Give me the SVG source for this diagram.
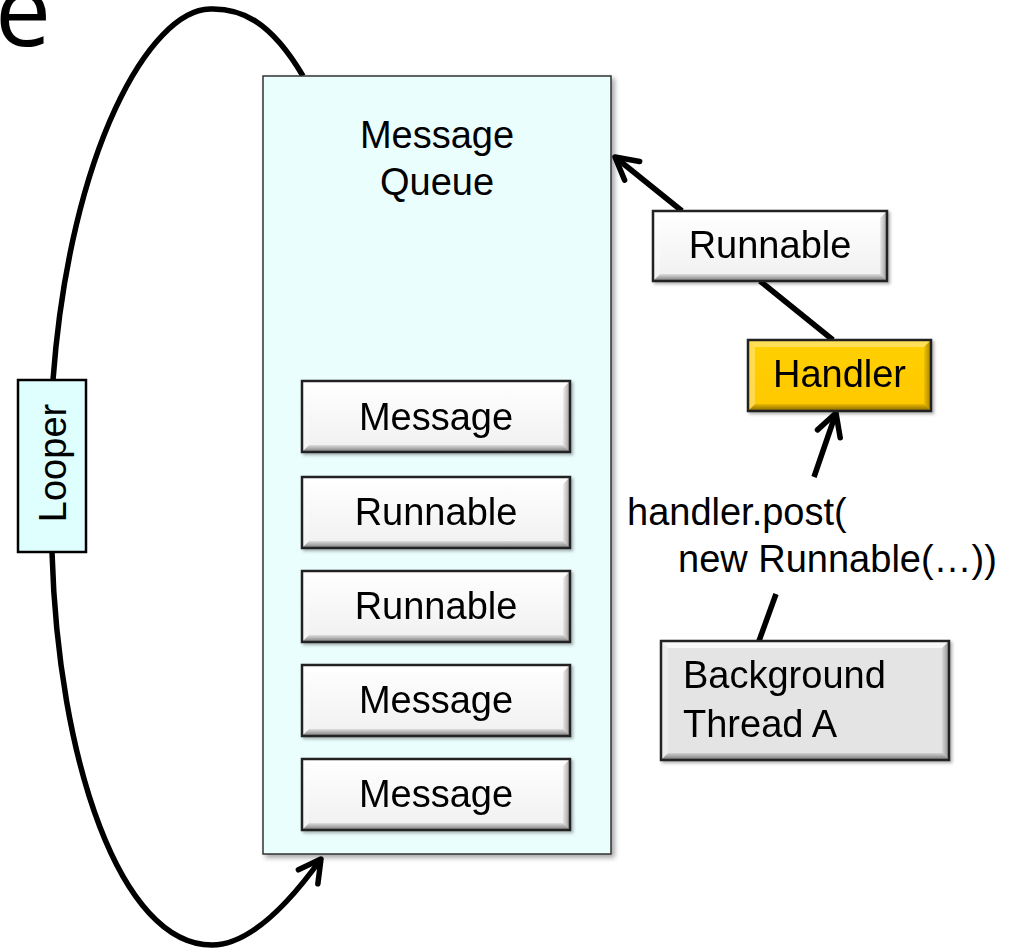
<svg xmlns="http://www.w3.org/2000/svg" xmlns:xlink="http://www.w3.org/1999/xlink" width="1025" height="949" viewBox="0 0 1025 949">
<style>
text{font-family:"Liberation Sans",Arial,sans-serif;font-size:38px;fill:#000}
.c{text-anchor:middle}
.edge{fill:none;stroke:#000;stroke-width:5.5}
.loop{fill:none;stroke:#000;stroke-width:5.5}
.frame{fill:none;stroke:#222;stroke-width:2.5}
.bt{fill:#fff;fill-opacity:0.75}
.bl{fill:#fff;fill-opacity:0.3}
.br{fill:url(#gR)}
.bb{fill:url(#gB)}
</style>
<defs>
<linearGradient id="gB" x1="0" y1="0" x2="0" y2="1"><stop offset="0" stop-color="#000" stop-opacity="0.08"/><stop offset="1" stop-color="#000" stop-opacity="0.5"/></linearGradient>
<linearGradient id="gR" x1="0" y1="0" x2="1" y2="0"><stop offset="0" stop-color="#000" stop-opacity="0.05"/><stop offset="1" stop-color="#000" stop-opacity="0.38"/></linearGradient>
<linearGradient id="gW" x1="0" y1="0" x2="0" y2="1"><stop offset="0" stop-color="#ffffff"/><stop offset="1" stop-color="#f0f0f0"/></linearGradient>
<linearGradient id="gY" x1="0" y1="0" x2="0" y2="1"><stop offset="0" stop-color="#ffd000"/><stop offset="1" stop-color="#ffc800"/></linearGradient>
<filter id="sh" x="-5%" y="-5%" width="115%" height="115%"><feDropShadow dx="3" dy="3" stdDeviation="2.5" flood-color="#000" flood-opacity="0.35"/></filter>
<filter id="sh2" x="-10%" y="-10%" width="125%" height="130%"><feDropShadow dx="2" dy="2" stdDeviation="1.5" flood-color="#000" flood-opacity="0.3"/></filter>
<marker id="ah" viewBox="-30 -20 36 40" refX="0" refY="0" markerWidth="36" markerHeight="40" markerUnits="userSpaceOnUse" orient="auto"><path d="M-22,-12 L0,0 L-22,12" fill="none" stroke="#000" stroke-width="5.5" stroke-linecap="round" stroke-linejoin="round"/></marker>
<g id="bev268">
<rect x="0" y="0" width="268" height="71" fill="url(#gW)"/>
<polygon class="bt" points="0,0 268,0 261,7 7,7"/>
<polygon class="bl" points="0,0 7,7 7,64 0,71"/>
<polygon class="br" points="268,0 268,71 261,64 261,7"/>
<polygon class="bb" points="0,71 268,71 261,64 7,64"/>
<rect class="frame" x="0" y="0" width="268" height="71"/>
</g>
</defs>

<text x="-5" y="46" style="font-family:'Open Sans','Noto Sans',sans-serif;font-size:100px">e</text>

<g id="connectors">
<path class="loop" d="M303,76 C270,20 240,8 210,9 C150,10 70,150 53,380 L52,552 C58,760 120,945 212,945 C250,945 290,902 321,859" marker-end="url(#ah)"/>
<line class="edge" x1="682" y1="211" x2="615" y2="157" marker-end="url(#ah)"/>
<line class="edge" x1="760" y1="281" x2="833" y2="340"/>
<line class="edge" x1="814" y1="477" x2="836" y2="413" marker-end="url(#ah)"/>
<line class="edge" x1="759" y1="641" x2="776" y2="594"/>
</g>

<g id="queue">
<rect x="263" y="76" width="348" height="778" fill="#ebfefe" stroke="#333" stroke-width="1.5" filter="url(#sh)"/>
<text class="c" x="437" y="148">Message</text>
<text class="c" x="437" y="195">Queue</text>
</g>

<g id="looper">
<rect x="18" y="380" width="68" height="172" fill="#dffefe" stroke="#000" stroke-width="2.5"/>
<text class="c" transform="translate(66,463) rotate(-90)">Looper</text>
</g>

<g id="q1" transform="translate(302,381)" filter="url(#sh2)"><use xlink:href="#bev268"/><text class="c" x="134" y="49">Message</text></g>
<g id="q2" transform="translate(302,477)" filter="url(#sh2)"><use xlink:href="#bev268"/><text class="c" x="134" y="48">Runnable</text></g>
<g id="q3" transform="translate(302,571)" filter="url(#sh2)"><use xlink:href="#bev268"/><text class="c" x="134" y="48">Runnable</text></g>
<g id="q4" transform="translate(302,665)" filter="url(#sh2)"><use xlink:href="#bev268"/><text class="c" x="134" y="48">Message</text></g>
<g id="q5" transform="translate(302,759)" filter="url(#sh2)"><use xlink:href="#bev268"/><text class="c" x="134" y="48">Message</text></g>

<g id="runnable" transform="translate(653,211)" filter="url(#sh2)">
<rect x="0" y="0" width="234" height="70" fill="url(#gW)"/>
<polygon class="bt" points="0,0 234,0 227,7 7,7"/>
<polygon class="bl" points="0,0 7,7 7,63 0,70"/>
<polygon class="br" points="234,0 234,70 227,63 227,7"/>
<polygon class="bb" points="0,70 234,70 227,63 7,63"/>
<rect class="frame" x="0" y="0" width="234" height="70"/>
<text class="c" x="117" y="47">Runnable</text>
</g>

<g id="handler" transform="translate(748,340)" filter="url(#sh2)">
<rect x="0" y="0" width="183" height="71" fill="url(#gY)"/>
<polygon class="bt" points="0,0 183,0 176,7 7,7" style="fill-opacity:0.35"/>
<polygon class="bl" points="0,0 7,7 7,64 0,71"/>
<polygon class="br" points="183,0 183,71 176,64 176,7"/>
<polygon class="bb" points="0,71 183,71 176,64 7,64"/>
<rect class="frame" x="0" y="0" width="183" height="71"/>
<text class="c" x="91.5" y="47">Handler</text>
</g>

<g id="post-label">
<text x="627" y="525">handler.post(</text>
<text x="678" y="572">new Runnable(…))</text>
</g>

<g id="thread" transform="translate(661,641)" filter="url(#sh2)">
<rect x="0" y="0" width="288" height="119" fill="#e4e4e4"/>
<polygon class="bt" points="0,0 288,0 281,7 7,7"/>
<polygon class="bl" points="0,0 7,7 7,112 0,119"/>
<polygon class="br" points="288,0 288,119 281,112 281,7"/>
<polygon class="bb" points="0,119 288,119 281,112 7,112"/>
<rect class="frame" x="0" y="0" width="288" height="119"/>
<text x="22" y="47">Background</text>
<text x="22" y="96">Thread A</text>
</g>
</svg>
